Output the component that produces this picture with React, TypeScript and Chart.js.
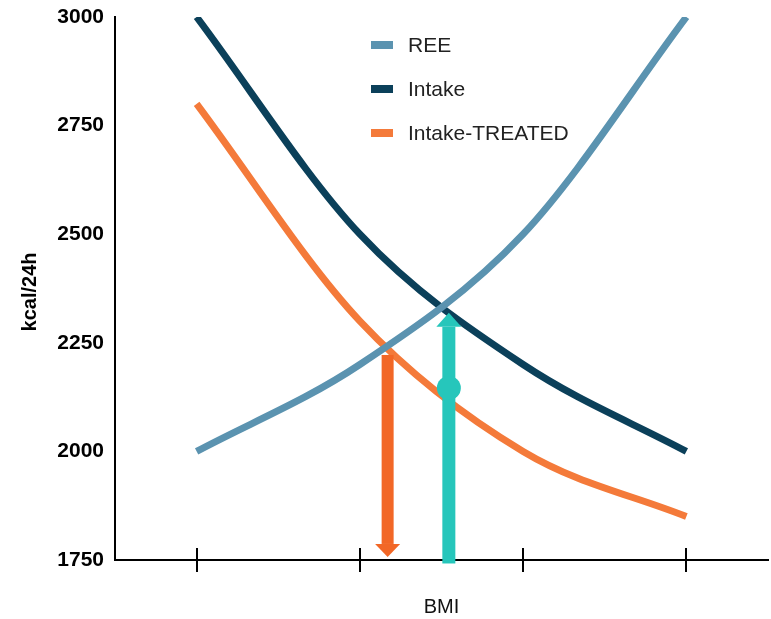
import React, { useEffect, useRef } from "react";
import { Chart, registerables } from "chart.js";

Chart.register(...registerables);

// ---- data ----
const bmiPositions = [1, 2, 3, 4];
const reeValues = [2000, 2200, 2500, 3000];
const intakeValues = [3000, 2500, 2200, 2000];
const treatedValues = [2800, 2300, 2000, 1850];
const yTickValues = [1750, 2000, 2250, 2500, 2750, 3000];
const seriesLabels = ["REE", "Intake", "Intake-TREATED"];
const seriesColors = ["#5b93b0", "#0b405a", "#f47a3a"];
// arrows: [x, fromY, toY]
const downArrow = [2.17, 2222, 1757];
const upArrow = [2.545, 1742, 2319];
const dotPoint = [2.545, 2146];
const axisTitleY = "kcal/24h";
const axisTitleX = "BMI";

const toPoints = (vals: number[]) => vals.map((v, i) => ({ x: bmiPositions[i], y: v }));

const ORANGE_ARROW = "#f26726";
const TEAL = "#26c6bb";

function drawArrow(ctx: CanvasRenderingContext2D, x: number, y0: number, y1: number, color: string, shaftW: number, headW: number, headH: number) {
  const dir = y1 > y0 ? 1 : -1;
  const baseY = y1 - dir * headH;
  ctx.save();
  ctx.fillStyle = color;
  ctx.fillRect(x - shaftW / 2, Math.min(y0, baseY), shaftW, Math.abs(baseY - y0));
  ctx.beginPath();
  ctx.moveTo(x - headW / 2, baseY);
  ctx.lineTo(x + headW / 2, baseY);
  ctx.lineTo(x, y1);
  ctx.closePath();
  ctx.fill();
  ctx.restore();
}

const extrasPlugin = {
  id: "extras",
  afterDatasetsDraw(chart: any) {
    const { ctx, scales, chartArea } = chart;
    const xs = scales.x;
    const ys = scales.y;
    // x tick marks crossing the axis
    ctx.save();
    ctx.strokeStyle = "#000";
    ctx.lineWidth = 2;
    bmiPositions.forEach((v) => {
      const px = Math.round(xs.getPixelForValue(v));
      ctx.beginPath();
      ctx.moveTo(px, chartArea.bottom - 12);
      ctx.lineTo(px, chartArea.bottom + 12);
      ctx.stroke();
    });
    ctx.restore();

    // arrows
    drawArrow(ctx, xs.getPixelForValue(downArrow[0]), ys.getPixelForValue(downArrow[1]), ys.getPixelForValue(downArrow[2]), ORANGE_ARROW, 12, 25, 13);
    drawArrow(ctx, xs.getPixelForValue(upArrow[0]), ys.getPixelForValue(upArrow[1]), ys.getPixelForValue(upArrow[2]), TEAL, 13, 25, 14);
    // dot
    ctx.save();
    ctx.fillStyle = TEAL;
    ctx.beginPath();
    ctx.arc(xs.getPixelForValue(dotPoint[0]), ys.getPixelForValue(dotPoint[1]), 12, 0, Math.PI * 2);
    ctx.fill();
    ctx.restore();

    // legend
    ctx.save();
    ctx.font = "21px 'Liberation Sans', Arial, sans-serif";
    ctx.textBaseline = "middle";
    ctx.textAlign = "left";
    const rows = [45, 89, 133];
    seriesLabels.forEach((lab, i) => {
      ctx.fillStyle = seriesColors[i];
      ctx.fillRect(371, rows[i] - 4, 22, 8);
      ctx.fillStyle = "#222";
      ctx.fillText(lab, 408, rows[i] + 1);
    });
    ctx.restore();

    // axis titles
    ctx.save();
    ctx.fillStyle = "#000";
    ctx.font = "bold 20px 'Liberation Sans', Arial, sans-serif";
    ctx.textAlign = "center";
    ctx.textBaseline = "middle";
    ctx.translate(30, 292);
    ctx.rotate(-Math.PI / 2);
    ctx.fillText(axisTitleY, 0, 0);
    ctx.restore();

    ctx.save();
    ctx.fillStyle = "#111";
    ctx.font = "20px 'Liberation Sans', Arial, sans-serif";
    ctx.textAlign = "center";
    ctx.textBaseline = "middle";
    ctx.fillText(axisTitleX, (chartArea.left + chartArea.right) / 2, 607);
    ctx.restore();
  },
};

export default function App() {
  const ref = useRef<HTMLCanvasElement | null>(null);
  useEffect(() => {
    document.body.style.margin = "0";
    const canvas = ref.current!;
    const lineDs = (label: string, vals: number[], color: string) => ({
      label,
      data: toPoints(vals),
      borderColor: color,
      backgroundColor: color,
      borderWidth: 7,
      pointRadius: 0,
      cubicInterpolationMode: "monotone" as const,
      fill: false,
      borderCapStyle: "butt" as const,
    });
    const chart = new Chart(canvas, {
      type: "line",
      data: {
        datasets: [
          lineDs(seriesLabels[0], reeValues, seriesColors[0]),
          lineDs(seriesLabels[2], treatedValues, seriesColors[2]),
          lineDs(seriesLabels[1], intakeValues, seriesColors[1]),
        ],
      },
      options: {
        animation: false,
        responsive: false,
        layout: { padding: { top: 17, left: 0, right: 3, bottom: 0 } },
        plugins: { legend: { display: false }, tooltip: { enabled: false } },
        scales: {
          x: {
            type: "linear",
            min: 0.5,
            max: 4.5,
            grid: { display: false },
            ticks: { display: false },
            border: { display: true, color: "#000", width: 2 },
            afterFit: (s: any) => { s.height = 59; s.paddingLeft = 0; s.paddingRight = 0; },
          },
          y: {
            min: 1750,
            max: 3000,
            afterBuildTicks: (s: any) => { s.ticks = yTickValues.map((v) => ({ value: v })); },
            grid: { display: false },
            ticks: {
              padding: 3,
              color: "#000",
              callback: (v: any) => String(v),
              font: { family: "'Liberation Sans', Arial, sans-serif", size: 21, weight: "bold" },
            },
            border: { display: true, color: "#000", width: 2 },
            afterFit: (s: any) => { s.width = 115; s.paddingTop = 0; s.paddingBottom = 0; },
          },
        },
      },
      plugins: [extrasPlugin],
    });
    return () => chart.destroy();
  }, []);
  return (
    <div style={{ position: "absolute", left: 0, top: 0, width: 771, height: 619 }}>
      <canvas ref={ref} width={771} height={619} style={{ width: 771, height: 619, display: "block" }} />
    </div>
  );
}
